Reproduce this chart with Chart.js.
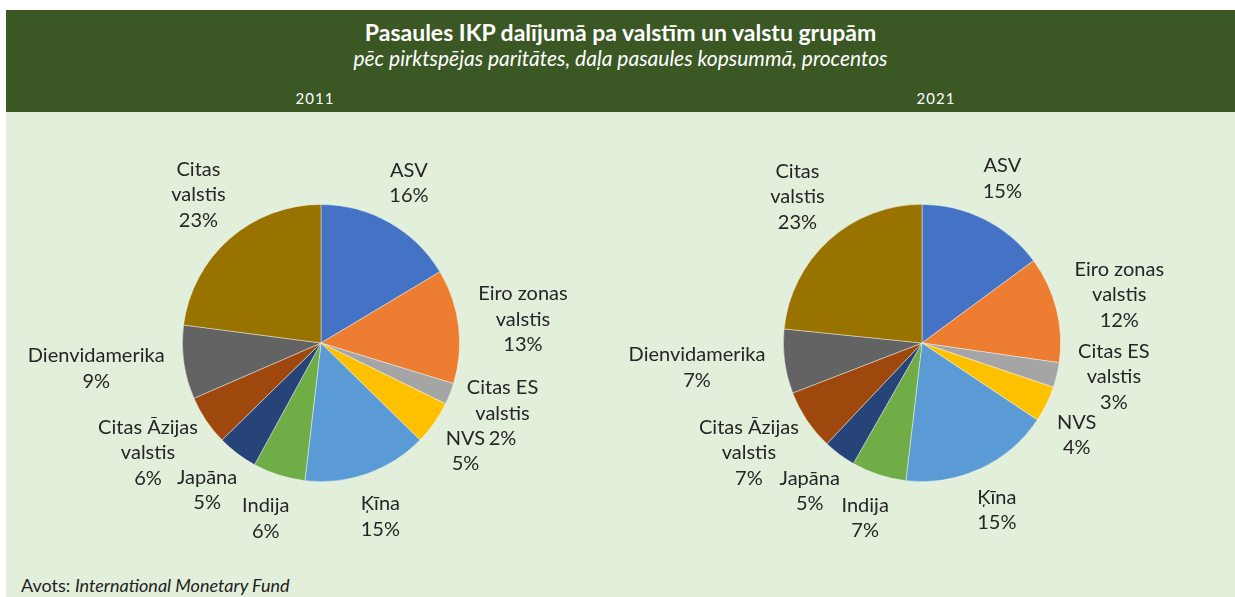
<!DOCTYPE html>
<html>
<head>
<meta charset="utf-8">
<script src="https://cdn.jsdelivr.net/npm/chart.js@4.4.1/dist/chart.umd.min.js"></script>
<style>
  html, body { margin:0; padding:0; background:#ffffff; width:1235px; height:597px; overflow:hidden; font-family: Lato, "Open Sans", sans-serif; }
  #bg { position:absolute; left:6px; top:112px; right:0; bottom:0; background:#e2efda; }
  #band { position:absolute; left:6px; top:10px; right:0; height:102px; background:#3a5724; color:#fff; }
  #title { position:absolute; left:0; right:0; top:8px; line-height:28px; text-align:center; font-weight:bold; font-size:23px; }
  #subtitle { position:absolute; left:0; right:0; top:35px; line-height:26px; text-align:center; font-style:italic; font-size:21px; }
  .year { position:absolute; top:79px; font-size:15px; letter-spacing:1px; width:80px; text-align:center; }
  #source { position:absolute; left:21px; top:574px; font-size:18px; color:#222; }
  canvas { position:absolute; top:113px; }
</style>
</head>
<body>
<div id="bg"></div>
<div id="band">
  <div id="title">Pasaules IKP dalījumā pa valstīm un valstu grupām</div>
  <div id="subtitle">pēc pirktspējas paritātes, daļa pasaules kopsummā, procentos</div>
  <div class="year" id="y1" style="left:269px;">2011</div>
  <div class="year" id="y2" style="left:890px;">2021</div>
</div>
<div id="source">Avots: <i>International Monetary Fund</i></div>
<canvas id="c1" width="617" height="484" style="left:0px;"></canvas>
<canvas id="c2" width="618" height="484" style="left:617px;"></canvas>
<script>
// ---- data ----
const categories = ['ASV', ['Eiro zonas','valstis'], ['Citas ES','valstis'], 'NVS', 'Ķīna', 'Indija', 'Japāna', ['Citas Āzijas','valstis'], 'Dienvidamerika', ['Citas','valstis']];
const years = ['2011', '2021'];
const values2011 = [16.4, 13.3, 2.5, 5.1, 14.5, 6.1, 4.7, 5.8, 8.6, 22.9];
const values2021 = [14.9, 12.4, 2.9, 4.2, 17.5, 6.4, 3.8, 7.1, 7.5, 23.4];
const shownPct2011 = [16, 13, 2, 5, 15, 6, 5, 6, 9, 23];
const shownPct2021 = [15, 12, 3, 4, 15, 7, 5, 7, 7, 23];
const colors = ['#4472C4','#ED7D31','#A5A5A5','#FFC000','#5B9BD5','#70AD47','#264478','#9E480E','#636363','#997300'];

const LABEL_FONT = '20px Lato, "Open Sans", sans-serif';
const LINE_H = 25.5;
const GAP = 20;

function lineRects(L) {
  return L.lines.map((l, k) => {
    const w = L.widths[k];
    const cy = L.y - L.h / 2 + LINE_H * (k + 0.5);
    return { x0: L.x - w / 2, x1: L.x + w / 2, y0: cy - 9, y1: cy + 9 };
  });
}
function overlaps(A, B) {
  const ra = lineRects(A), rb = lineRects(B);
  for (const a of ra) for (const b of rb) {
    if (a.x0 < b.x1 + 3 && b.x0 < a.x1 + 3 && a.y0 < b.y1 + 2 && b.y0 < a.y1 + 2) return true;
  }
  return false;
}

const outsideLabels = {
  id: 'outsideLabels',
  afterDatasetsDraw(chart, args, opts) {
    const ctx = chart.ctx;
    const meta = chart.getDatasetMeta(0);
    ctx.save();
    ctx.font = LABEL_FONT;
    ctx.fillStyle = '#262626';
    ctx.textAlign = 'center';
    ctx.textBaseline = 'middle';
    const labs = meta.data.map((arc, i) => {
      const p = arc.getProps(['x','y','startAngle','endAngle','outerRadius'], true);
      const mid = (p.startAngle + p.endAngle) / 2;
      const cx = Math.cos(mid), sy = Math.sin(mid);
      const lab = chart.data.labels[i];
      const lines = (Array.isArray(lab) ? lab.slice() : [lab]);
      lines.push(opts.pct[i] + '%');
      const widths = lines.map(l => ctx.measureText(l).width);
      const w = Math.max(...widths);
      const h = lines.length * LINE_H;
      const ax = p.x + (p.outerRadius + GAP) * cx;
      const ay = p.y + (p.outerRadius + GAP) * sy;
      return { mid, lines, widths, w, h, x: ax + cx * w / 2, y: ay + sy * h / 2 };
    });
    // simple tangential separation of colliding labels
    for (let it = 0; it < 60; it++) {
      let moved = false;
      for (let i = 0; i < labs.length; i++) {
        for (let j = i + 1; j < labs.length; j++) {
          if (overlaps(labs[i], labs[j])) {
            const A = labs[i], B = labs[j];
            A.x -= -Math.sin(A.mid); A.y -= Math.cos(A.mid);
            B.x += -Math.sin(B.mid); B.y += Math.cos(B.mid);
            moved = true;
          }
        }
      }
      if (!moved) break;
    }
    labs.forEach(L => {
      L.lines.forEach((l, k) => {
        ctx.fillText(l, L.x, L.y - L.h / 2 + LINE_H * (k + 0.5));
      });
    });
    ctx.restore();
  }
};

function makePie(id, vals, pct, pad) {
  return new Chart(document.getElementById(id), {
    type: 'pie',
    data: {
      labels: categories,
      datasets: [{
        data: vals,
        backgroundColor: colors,
        borderColor: 'rgba(255,255,255,0.55)',
        borderWidth: 0.75
      }]
    },
    options: {
      responsive: false,
      animation: false,
      layout: { padding: pad },
      plugins: {
        legend: { display: false },
        tooltip: { enabled: false },
        title: { display: false },
        outsideLabels: { pct: pct }
      }
    },
    plugins: [outsideLabels]
  });
}

makePie('c1', values2011, shownPct2011, { left: 182, right: 157, top: 91, bottom: 115 });
makePie('c2', values2021, shownPct2021, { left: 166, right: 174, top: 91, bottom: 115 });
</script>
</body>
</html>
